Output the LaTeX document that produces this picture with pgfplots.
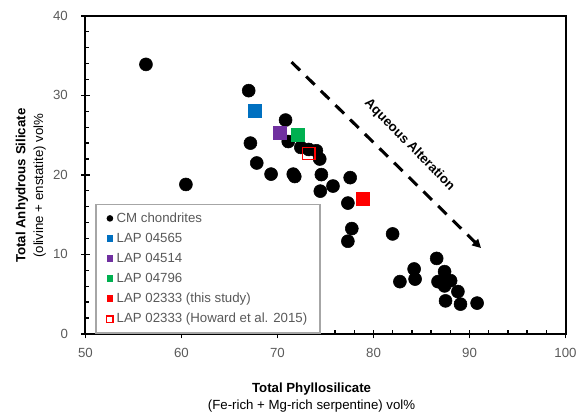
\documentclass[border=0pt]{standalone}
\usepackage{fontspec}
\setmainfont{Liberation Sans}
\usepackage{pgfplots}
\pgfplotsset{compat=1.18}
\usetikzlibrary{arrows.meta}
\definecolor{cblue}{HTML}{0070C0}
\definecolor{cpurple}{HTML}{7030A0}
\definecolor{cgreen}{HTML}{00B050}
\definecolor{cred}{HTML}{FF0000}
\definecolor{tickgray}{HTML}{595959}
\definecolor{legendgray}{HTML}{A6A6A6}
\begin{document}
\begin{tikzpicture}
\begin{axis}[name=ax, scale only axis, width=362.25pt, height=240pt,
  xmin=50, xmax=100, ymin=0, ymax=40,
  xtick={50,60,...,100}, ytick={0,10,...,40},
  minor x tick num=4, minor y tick num=4,
  tick pos=left, tick align=center,
  major tick length=6.5pt, minor tick length=3pt,
  minor x tick style={yshift=1.5pt}, minor y tick style={xshift=1.5pt},
  axis line style={line width=1.5pt},
  tick style={line width=1pt, black},
  ticklabel style={text=tickgray, font=\normalsize},
  xticklabel style={yshift=-4pt}, yticklabel style={xshift=-6.5pt},
  /pgf/number format/assume math mode=true,
  clip=false,
  xlabel={\textbf{Total Phyllosilicate}\\(Fe-rich + Mg-rich serpentine) vol\%},
  xlabel style={align=center, font=\fontsize{10}{13}\selectfont, at={(axis description cs:0.471,-0.2)}, anchor=center},
  ylabel={\textbf{Total Anhydrous Silicate}\\(olivine + enstatite) vol\%},
  ylabel style={align=center, font=\fontsize{10}{13.5}\selectfont, at={(axis description cs:-0.1139,0.466)}, anchor=center},
  legend style={at={(axis description cs:0.02,0.409)}, anchor=north west,
    draw=legendgray, line width=1.2pt, text=tickgray, font=\normalsize,
    inner xsep=7.5pt, inner ysep=4pt, row sep=2.6pt, cells={anchor=west}},
]
\addplot[only marks, mark=*, mark size=4.9pt, black, forget plot] coordinates {
(56.3,33.9) (67.0,30.6) (70.84,26.9) (67.18,24.0) (71.12,24.2) (72.43,23.46)
(73.26,23.2) (74.05,23.04) (74.4,22.0) (67.84,21.5) (69.33,20.1) (71.64,20.1)
(71.8,19.8) (74.57,20.04) (60.46,18.8) (74.46,17.96) (75.78,18.6) (77.57,19.66)
(77.33,16.46) (77.74,13.25) (77.33,11.66) (81.99,12.58)
(86.58,9.5) (84.23,8.17) (84.33,6.9) (82.75,6.58) (87.4,7.83) (86.72,6.58)
(88.03,6.7) (87.43,6.8) (87.4,6.04) (88.79,5.33) (87.5,4.16) (89.06,3.75) (90.79,3.88)
};
\addplot[only marks, mark=square*, mark size=4.9pt, cblue, forget plot] coordinates {(67.6,28.09)};
\addplot[only marks, mark=square*, mark size=4.9pt, cpurple, forget plot] coordinates {(70.22,25.25)};
\addplot[only marks, mark=square*, mark size=4.9pt, cgreen, forget plot] coordinates {(72.08,25.1)};
\addplot[only marks, mark=square*, mark size=4.9pt, cred, forget plot] coordinates {(78.92,16.96)};
\addplot[only marks, mark=square, mark size=4.6pt, cred, line width=1pt, forget plot] coordinates {(73.26,22.7)};

\addlegendimage{legend image code/.code={\node[circle,fill=black,inner sep=0pt,minimum size=5pt] at (3pt,0) {};}}
\addlegendentry{CM chondrites}
\addlegendimage{legend image code/.code={\node[fill=cblue,inner sep=0pt,minimum size=5pt] at (3pt,0) {};}}
\addlegendentry{LAP 04565}
\addlegendimage{legend image code/.code={\node[fill=cpurple,inner sep=0pt,minimum size=5pt] at (3pt,0) {};}}
\addlegendentry{LAP 04514}
\addlegendimage{legend image code/.code={\node[fill=cgreen,inner sep=0pt,minimum size=5pt] at (3pt,0) {};}}
\addlegendentry{LAP 04796}
\addlegendimage{legend image code/.code={\node[fill=cred,inner sep=0pt,minimum size=5pt] at (3pt,0) {};}}
\addlegendentry{LAP 02333 (this study)}
\addlegendimage{legend image code/.code={\node[draw=cred,line width=1.2pt,inner sep=0pt,minimum size=5pt] at (3pt,0) {};}}
\addlegendentry{LAP 02333 (Howard et al. 2015)}

\draw[line width=2.3pt, dash pattern=on 9pt off 6.5pt, -{Triangle[length=6.5pt,width=6.5pt]}]
  (axis cs:71.46,34.2) -- (axis cs:91.2,10.8);
\node[rotate=-45.5, font=\bfseries] at (axis cs:83.75,23.75) {Aqueous Alteration};
\end{axis}
\path ([shift={(-64.5pt,-58.5pt)}]ax.south west) rectangle ([shift={(9pt,12pt)}]ax.north east);
\end{tikzpicture}
\end{document}
